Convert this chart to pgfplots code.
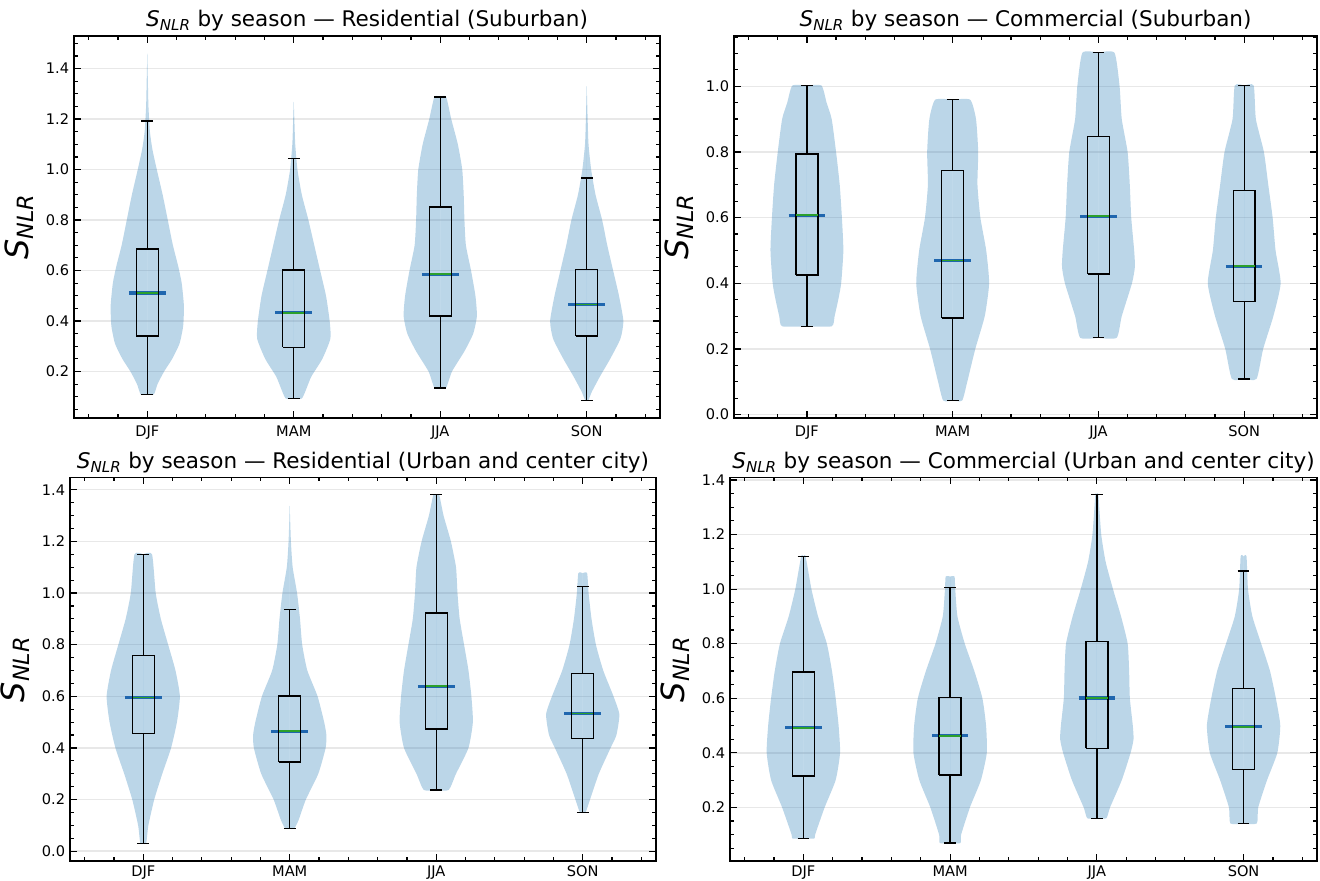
\documentclass[border=0pt]{standalone}
\usepackage{fontspec}
\setmainfont{DejaVu Sans}
\usepackage{amsmath}
\usepackage{pgfplots}
\usepackage{pgfplotstable}
\pgfplotsset{compat=1.18}
\definecolor{c0}{HTML}{1F77B4}
\definecolor{medblue}{HTML}{1F66AE}
\definecolor{medgreen}{HTML}{2CA02C}

% violin profiles: y, half width (x units); first and last rows close on the centre line
\pgfplotstableread{
y w
0.109 0
0.109 0.045
0.15 0.07
0.20 0.115
0.25 0.17
0.31 0.22
0.38 0.245
0.46 0.25
0.55 0.235
0.62 0.21
0.70 0.175
0.80 0.14
0.90 0.105
1.00 0.065
1.08 0.035
1.15 0.018
1.25 0.008
1.35 0.004
1.459 0
}\rsDJF
\pgfplotstableread{
y w
0.093 0
0.093 0.055
0.13 0.085
0.18 0.12
0.25 0.195
0.33 0.25
0.40 0.245
0.50 0.22
0.60 0.18
0.70 0.14
0.80 0.10
0.90 0.055
1.00 0.025
1.10 0.01
1.18 0.005
1.268 0
}\rsMAM
\pgfplotstableread{
y w
0.135 0
0.135 0.04
0.20 0.08
0.28 0.165
0.35 0.225
0.42 0.25
0.50 0.24
0.60 0.21
0.70 0.175
0.80 0.165
0.90 0.16
1.00 0.15
1.10 0.12
1.20 0.075
1.288 0.04
1.288 0
}\rsJJA
\pgfplotstableread{
y w
0.084 0
0.084 0.01
0.12 0.035
0.18 0.09
0.25 0.16
0.33 0.23
0.40 0.25
0.50 0.22
0.60 0.18
0.70 0.14
0.80 0.105
0.90 0.06
1.00 0.03
1.10 0.012
1.20 0.006
1.33 0
}\rsSON
\pgfplotstableread{
y w
0.269 0
0.269 0.17
0.30 0.19
0.35 0.215
0.40 0.235
0.50 0.25
0.60 0.24
0.70 0.225
0.80 0.20
0.90 0.17
0.95 0.135
1.002 0.10
1.002 0
}\csDJF
\pgfplotstableread{
y w
0.043 0
0.043 0.065
0.10 0.10
0.20 0.155
0.30 0.22
0.40 0.25
0.50 0.23
0.60 0.19
0.70 0.17
0.80 0.175
0.90 0.16
0.959 0.12
0.959 0
}\csMAM
\pgfplotstableread{
y w
0.234 0
0.234 0.125
0.30 0.16
0.40 0.23
0.45 0.25
0.50 0.245
0.60 0.225
0.70 0.215
0.80 0.20
0.90 0.16
1.00 0.145
1.102 0.11
1.102 0
}\csJJA
\pgfplotstableread{
y w
0.109 0
0.109 0.085
0.20 0.13
0.30 0.20
0.40 0.25
0.50 0.215
0.60 0.195
0.70 0.165
0.80 0.135
0.90 0.08
1.002 0.065
1.002 0
}\csSON
\pgfplotstableread{
y w
0.03 0
0.03 0.02
0.10 0.035
0.20 0.075
0.30 0.13
0.40 0.19
0.50 0.23
0.60 0.25
0.70 0.22
0.80 0.17
0.90 0.12
1.00 0.085
1.150 0.06
1.150 0
}\ruDJF
\pgfplotstableread{
y w
0.087 0
0.087 0.03
0.12 0.06
0.20 0.11
0.30 0.195
0.40 0.245
0.45 0.25
0.50 0.235
0.60 0.19
0.70 0.12
0.80 0.085
0.90 0.07
1.00 0.05
1.10 0.02
1.20 0.008
1.338 0
}\ruMAM
\pgfplotstableread{
y w
0.237 0
0.237 0.085
0.30 0.135
0.40 0.22
0.50 0.25
0.60 0.24
0.70 0.22
0.80 0.19
0.90 0.16
1.00 0.145
1.10 0.135
1.20 0.10
1.30 0.05
1.381 0.02
1.381 0
}\ruJJA
\pgfplotstableread{
y w
0.151 0
0.151 0.02
0.20 0.05
0.30 0.11
0.40 0.19
0.45 0.23
0.53 0.25
0.60 0.21
0.70 0.14
0.80 0.09
0.90 0.06
1.00 0.04
1.077 0.03
1.077 0
}\ruSON
\pgfplotstableread{
y w
0.086 0
0.086 0.075
0.10 0.08
0.20 0.145
0.30 0.22
0.40 0.25
0.50 0.24
0.60 0.22
0.70 0.195
0.80 0.16
0.90 0.10
1.00 0.055
1.120 0.015
1.120 0
}\cuDJF
\pgfplotstableread{
y w
0.069 0
0.069 0.07
0.10 0.075
0.20 0.135
0.30 0.21
0.40 0.25
0.50 0.245
0.60 0.22
0.70 0.165
0.80 0.10
0.90 0.05
1.00 0.035
1.046 0.03
1.046 0
}\cuMAM
\pgfplotstableread{
y w
0.160 0
0.160 0.065
0.20 0.09
0.30 0.17
0.40 0.23
0.45 0.25
0.50 0.245
0.60 0.225
0.70 0.22
0.80 0.21
0.90 0.165
1.00 0.11
1.10 0.06
1.20 0.03
1.346 0.01
1.346 0
}\cuJJA
\pgfplotstableread{
y w
0.141 0
0.141 0.09
0.20 0.10
0.30 0.16
0.40 0.23
0.50 0.25
0.60 0.22
0.70 0.18
0.80 0.12
0.90 0.06
1.00 0.03
1.120 0.02
1.120 0
}\cuSON

% unit box outline: a picks q1, b picks q3
\pgfplotstableread{
dx a b
-0.075 1 0
0.075 1 0
0.075 0 1
-0.075 0 1
-0.075 1 0
}\boxshape

% \violin{pos}{profile}{whisker lo}{q1}{median}{q3}{whisker hi}
\newcommand{\violin}[7]{%
  \addplot[fill=c0, fill opacity=0.3, draw=none, smooth, tension=0.35] table[x expr=#1+\thisrow{w}, y=y] {#2};
  \addplot[fill=c0, fill opacity=0.3, draw=none, smooth, tension=0.35] table[x expr=#1-\thisrow{w}, y=y] {#2};
  \addplot[medblue, line width=2.3pt] table[row sep=\\, x expr=#1+\thisrow{d}, y expr=#5] {d\\-0.125\\0.125\\};
  \addplot[black, line width=1pt] table[row sep=\\, x expr=#1, y=y] {y\\#4\\#3\\};
  \addplot[black, line width=1pt] table[row sep=\\, x expr=#1, y=y] {y\\#6\\#7\\};
  \addplot[black, line width=1pt] table[row sep=\\, x expr=#1+\thisrow{d}, y expr=#3] {d\\-0.04\\0.04\\};
  \addplot[black, line width=1pt] table[row sep=\\, x expr=#1+\thisrow{d}, y expr=#7] {d\\-0.04\\0.04\\};
  \addplot[black, line width=1pt, line join=miter] table[x expr=#1+\thisrow{dx}, y expr=\thisrow{a}*#4+\thisrow{b}*#6] {\boxshape};
  \addplot[medgreen, line width=1.2pt] table[row sep=\\, x expr=#1+\thisrow{d}, y expr=#5] {d\\-0.073\\0.073\\};
}

\pgfplotsset{vstyle/.style={
  scale only axis, anchor=south west,
  xmin=0.5, xmax=4.5,
  xtick={1,2,3,4}, xticklabels={DJF,MAM,JJA,SON},
  minor xtick={0.6,0.8,1.2,1.4,1.6,1.8,2.2,2.4,2.6,2.8,3.2,3.4,3.6,3.8,4.2,4.4},
  ytick={0,0.2,0.4,0.6,0.8,1.0,1.2,1.4},
  minor ytick={-0.05,0,0.05,0.1,0.15,0.2,0.25,0.3,0.35,0.4,0.45,0.5,0.55,0.6,0.65,0.7,0.75,0.8,0.85,0.9,0.95,1.0,1.05,1.1,1.15,1.2,1.25,1.3,1.35,1.4,1.45,1.5},
  tick align=inside,
  major tick length=5pt, minor tick length=2.8pt,
  every tick/.style={black, line width=0.85pt},
  axis line style={line width=1.1pt},
  ymajorgrids, grid style={black!9, line width=1pt},
  yticklabel style={/pgf/number format/.cd, fixed, fixed zerofill, precision=1},
  /pgf/number format/assume math mode=true,
  tick label style={font=\fontsize{10.5}{12}\selectfont},
  title style={font=\fontsize{15.5}{18}\selectfont, yshift=-6pt},
  ylabel={$\textit{S}_{\textit{NLR}}$},
  ylabel style={font=\fontsize{23}{26}\selectfont, yshift=2pt},
}}

\begin{document}
\begin{tikzpicture}
\path[use as bounding box] (0,0) rectangle (950.4pt,634.32pt);

% Residential (Suburban)
\begin{axis}[vstyle, at={(53.3pt,333.4pt)}, width=421.9pt, height=275pt,
  ymin=0.016, ymax=1.529, xticklabel style={yshift=-2pt},
  title={$\textit{S}_{\textit{NLR}}$ by season — Residential (Suburban)}]
\violin{1}{\rsDJF}{0.109}{0.341}{0.511}{0.685}{1.193}
\violin{2}{\rsMAM}{0.093}{0.296}{0.433}{0.602}{1.043}
\violin{3}{\rsJJA}{0.135}{0.420}{0.585}{0.851}{1.288}
\violin{4}{\rsSON}{0.084}{0.341}{0.466}{0.605}{0.966}
\end{axis}

% Commercial (Suburban)
\begin{axis}[vstyle, at={(528.5pt,333.4pt)}, width=419.8pt, height=275pt,
  ymin=-0.01, ymax=1.153, xticklabel style={yshift=-2pt},
  title={$\textit{S}_{\textit{NLR}}$ by season — Commercial (Suburban)}]
\violin{1}{\csDJF}{0.269}{0.425}{0.607}{0.794}{1.002}
\violin{2}{\csMAM}{0.043}{0.294}{0.469}{0.743}{0.959}
\violin{3}{\csJJA}{0.234}{0.428}{0.604}{0.847}{1.102}
\violin{4}{\csSON}{0.109}{0.345}{0.452}{0.682}{1.002}
\end{axis}

% Residential (Urban and center city)
\begin{axis}[vstyle, at={(50.4pt,14.5pt)}, width=421.9pt, height=276pt,
  ymin=-0.0375, ymax=1.4475,
  title={$\textit{S}_{\textit{NLR}}$ by season — Residential (Urban and center city)}]
\violin{1}{\ruDJF}{0.030}{0.455}{0.595}{0.759}{1.150}
\violin{2}{\ruMAM}{0.087}{0.345}{0.465}{0.601}{0.937}
\violin{3}{\ruJJA}{0.237}{0.474}{0.639}{0.923}{1.381}
\violin{4}{\ruSON}{0.151}{0.436}{0.533}{0.689}{1.025}
\end{axis}

% Commercial (Urban and center city)
\begin{axis}[vstyle, at={(525.6pt,14.5pt)}, width=422.6pt, height=276pt,
  ymin=0.004, ymax=1.409,
  title={$\textit{S}_{\textit{NLR}}$ by season — Commercial (Urban and center city)}]
\violin{1}{\cuDJF}{0.086}{0.315}{0.492}{0.696}{1.120}
\violin{2}{\cuMAM}{0.069}{0.319}{0.462}{0.602}{1.007}
\violin{3}{\cuJJA}{0.160}{0.416}{0.601}{0.807}{1.346}
\violin{4}{\cuSON}{0.141}{0.338}{0.495}{0.636}{1.066}
\end{axis}
\end{tikzpicture}
\end{document}
